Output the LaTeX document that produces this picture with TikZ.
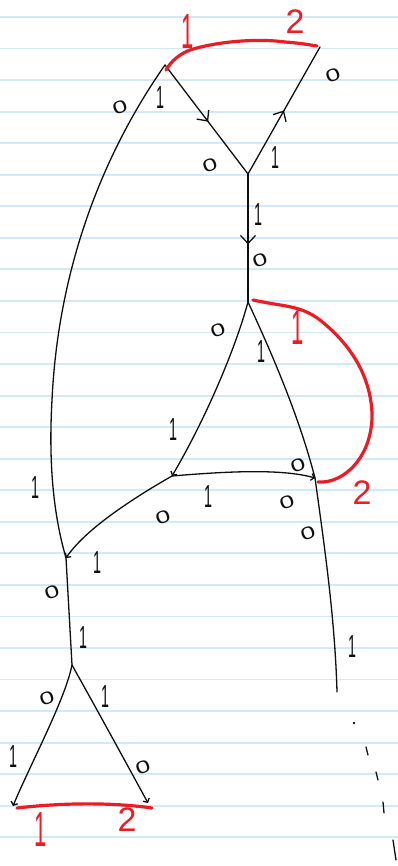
\documentclass[tikz,border=0pt]{standalone}
\usepackage{fontspec}
\setmainfont{Liberation Sans}
\usetikzlibrary{arrows.meta,decorations.markings}
\definecolor{paper}{RGB}{208,234,250}
\definecolor{ink}{RGB}{15,15,15}
\definecolor{redink}{RGB}{236,28,36}
\newcommand\tallone[1]{\scalebox{0.65}[1.45]{#1}}
\newcommand\wideoh[1]{\scalebox{1.2}[0.8]{#1}}
\begin{document}
\begin{tikzpicture}[x=1pt,y=-1pt,
  edge/.style={line width=1.3pt, draw=ink, line cap=round, line join=round},
  redline/.style={line width=3.2pt, draw=redink, line cap=round, line join=round},
  zero/.style={font=\fontsize{22}{22}\selectfont, text=ink, inner sep=0pt, rotate=20},
  one/.style={font=\fontsize{22}{22}\selectfont, text=ink, inner sep=0pt},
  redlab/.style={font=\fontsize{34}{34}\selectfont, text=redink, inner sep=0pt},
  midarrow/.style={postaction={decorate}, decoration={markings, mark=at position #1 with {\arrow[ink,line width=1.3pt]{Straight Barb[length=8pt,width=15pt]}}}},
  endtip/.style={-{Straight Barb[length=3pt,width=7pt]}}
]
\fill[white] (0,0) rectangle (398,866);
\useasboundingbox (0,0) rectangle (398,866);
\foreach \k in {0,...,26} \draw[paper, line width=1.8pt] (0,17+31.55*\k) -- (398,17+31.55*\k);

% vertices and free ends
\coordinate (A) at (165,65);
\coordinate (V) at (248,174);
\coordinate (T) at (320,47);
\coordinate (B) at (248,302);
\coordinate (C) at (172,476);
\coordinate (D) at (315,478);
\coordinate (E) at (66,558);
\coordinate (F) at (72,665);
\coordinate (G) at (13,806);
\coordinate (H) at (148,803);
\coordinate (Dend) at (337,692);
\coordinate (Lmid) at (52,400);

% black edges
\draw[edge] (A) .. controls (130,115) and (60,230) .. (Lmid) .. controls (48,470) and (55,520) .. (E);
\draw[edge, midarrow=0.52] (A) -- (V);
\draw[edge, midarrow=0.5] (V) -- (T);
\draw[edge, midarrow=0.55] (V) -- (B);
\draw[edge, endtip] (B) .. controls (235,350) and (205,420) .. (C);
\draw[edge] (B) .. controls (275,360) and (300,420) .. (D);
\draw[edge, endtip] (C) .. controls (220,472) and (280,468) .. (D);
\draw[edge, endtip] (C) .. controls (130,500) and (85,530) .. (E);
\draw[edge] (E) -- (F);
\draw[edge, endtip] (F) .. controls (65,700) and (30,765) .. (G);
\draw[edge, endtip] (F) .. controls (100,715) and (130,770) .. (H);
\draw[edge] (D) .. controls (325,550) and (335,620) .. (Dend);

% dotted continuation
\fill[ink] (354,723) circle (1.3pt);
\draw[edge] (366,747) -- (368,755);
\draw[edge] (376,772) -- (378,780);
\draw[edge] (383,802) -- (384,813);
\draw[edge] (393,840) -- (396,860);

% red arcs
\coordinate (RA1) at (166,70);
\coordinate (RA2) at (317,46);
\draw[redline] (RA1) .. controls (172,60) and (180,54) .. (190,50) .. controls (215,42) and (255,38) .. (285,42) .. controls (300,43) and (310,45) .. (RA2);
\coordinate (RB1) at (253,300);
\coordinate (RB2) at (318,482);
\draw[redline] (RB1) .. controls (285,307) and (300,305) .. (320,320) .. controls (345,340) and (370,370) .. (372,413) .. controls (373,455) and (345,484) .. (RB2);
\coordinate (RC1) at (17,808);
\coordinate (RC2) at (152,808);
\draw[redline] (RC1) .. controls (60,803) and (110,802) .. (RC2);

% black labels
\node[zero] (z1) at (120,107) {\wideoh{0}};
\node[one] (o1) at (160,98) {\tallone{1}};
\node[zero] (z2) at (210,165) {\wideoh{0}};
\node[one] (o2) at (275,158) {\tallone{1}};
\node[zero] (z3) at (333,75) {\wideoh{0}};
\node[one] (o3) at (258,215) {\tallone{1}};
\node[zero] (z4) at (260,260) {\wideoh{0}};
\node[zero] (z5) at (218,330) {\wideoh{0}};
\node[one] (o4) at (261,352) {\tallone{1}};
\node[one] (o5) at (173,430) {\tallone{1}};
\node[zero] (z6) at (298,465) {\wideoh{0}};
\node[one] (o6) at (208,497) {\tallone{1}};
\node[zero] (z7) at (287,502) {\wideoh{0}};
\node[zero] (z8) at (308,533) {\wideoh{0}};
\node[zero] (z9) at (163,517) {\wideoh{0}};
\node[one] (o7) at (35,488) {\tallone{1}};
\node[one] (o8) at (97,563) {\tallone{1}};
\node[zero] (z10) at (52,592) {\wideoh{0}};
\node[one] (o9) at (83,638) {\tallone{1}};
\node[zero] (z11) at (47,698) {\wideoh{0}};
\node[one] (o10) at (105,697) {\tallone{1}};
\node[one] (o11) at (13,757) {\tallone{1}};
\node[zero] (z12) at (143,767) {\wideoh{0}};
\node[one] (o12) at (352,647) {\tallone{1}};

% red labels
\node[redlab] (r1) at (188,32) {\tallone{1}};
\node[redlab] (r2) at (295,22) {2};
\node[redlab] (r3) at (298,328) {\tallone{1}};
\node[redlab] (r4) at (362,493) {2};
\node[redlab] (r5) at (41,830) {\tallone{1}};
\node[redlab] (r6) at (127,820) {2};
\end{tikzpicture}
\end{document}
